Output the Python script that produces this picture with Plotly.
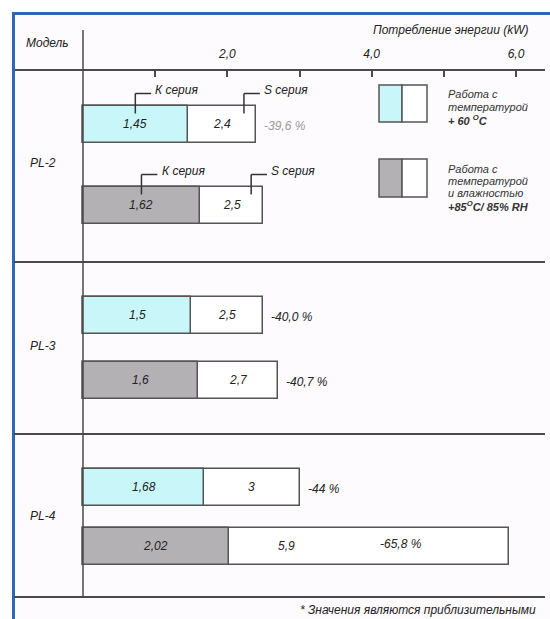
import plotly.graph_objects as go

W, H = 550, 619

# ---------------- data ----------------
models = ["PL-2", "PL-3", "PL-4"]
row_kind = ["temp", "hum", "temp", "hum", "temp", "hum"]
k_series = [1.45, 1.62, 1.5, 1.6, 1.68, 2.02]
s_series = [2.4, 2.5, 2.5, 2.7, 3.0, 5.9]
k_labels = ["1,45", "1,62", "1,5", "1,6", "1,68", "2,02"]
s_labels = ["2,4", "2,5", "2,5", "2,7", "3", "5,9"]
pct_labels = ["-39,6 %", None, "-40,0 %", "-40,7 %", "-44 %", "-65,8 %"]
tick_vals = [2, 4, 6]
tick_text = ["2,0", "4,0", "6,0"]
minor_tick_vals = [1, 3, 5]

# ---------------- layout constants (pixels) ----------------
ROW_Y = [124, 205, 315, 380, 487, 546]
MODEL_Y = [163, 346, 516]
BAR_H = 37
X0_PX = 83          # pixel where value 0 sits
PX_PER_UNIT = 72.17
AX_L, AX_R = 14, 545
AXIS_Y = 70
SEP_Y = [262, 434, 597]

FILL = {"temp": "#c9f7f9", "hum": "#b4b1b4"}
EDGE = "#555555"
FONT = "Liberation Sans, Arial, sans-serif"
TXT = "#222222"


def px(x):
    return x / W


def font(size=12, color=TXT, weight="normal"):
    return dict(family=FONT, size=size, color=color, style="italic", weight=weight)


fig = go.Figure()

# S series (full length, white) first, K series overlaid
for i in range(len(k_series)):
    fig.add_trace(go.Bar(
        orientation="h", y=[ROW_Y[i]], x=[s_series[i]], base=0, width=BAR_H,
        marker=dict(color="#ffffff", line=dict(color=EDGE, width=1.5)),
        showlegend=False, hoverinfo="skip"))
    fig.add_trace(go.Bar(
        orientation="h", y=[ROW_Y[i]], x=[k_series[i]], base=0, width=BAR_H,
        marker=dict(color=FILL[row_kind[i]], line=dict(color=EDGE, width=1.5)),
        showlegend=False, hoverinfo="skip"))

shapes = []
annotations = []

# frame background and blue border
shapes.append(dict(type="rect", xref="paper", yref="y", x0=px(13), x1=1.0, y0=13, y1=H,
                   fillcolor="#fdfbfd", line=dict(width=0), layer="below"))
shapes.append(dict(type="line", xref="paper", yref="y", x0=px(13.5), x1=px(13.5), y0=12, y1=H,
                   line=dict(color="#2d68b4", width=3)))
shapes.append(dict(type="line", xref="paper", yref="y", x0=px(12), x1=1.0, y0=13.5, y1=13.5,
                   line=dict(color="#2d68b4", width=3)))

# separators and vertical axis
for sy in SEP_Y:
    shapes.append(dict(type="line", xref="paper", yref="y", x0=px(AX_L), x1=px(AX_R), y0=sy, y1=sy,
                       line=dict(color="#4a4a4a", width=2)))
shapes.append(dict(type="line", xref="x", yref="y", x0=0, x1=0, y0=30, y1=SEP_Y[-1],
                   line=dict(color="#4a4a4a", width=1.5)))

# value labels
for i in range(len(k_series)):
    k, s = k_series[i], s_series[i]
    y = ROW_Y[i]
    annotations.append(dict(x=k / 2, y=y, xref="x", yref="y", text=k_labels[i],
                            showarrow=False, font=font(12)))
    inside_pct = s > 5
    sx = (k + 0.8) if inside_pct else (k + s) / 2
    annotations.append(dict(x=sx, y=y, xref="x", yref="y", text=s_labels[i],
                            showarrow=False, font=font(12)))
    if pct_labels[i]:
        col = "#9a9a9a" if i == 0 else TXT
        if inside_pct:
            annotations.append(dict(x=s - 1.5, y=y - 2, xref="x", yref="y", text=pct_labels[i],
                                    showarrow=False, font=font(12, col)))
        else:
            annotations.append(dict(x=s, y=y + 2, xref="x", yref="y", text=pct_labels[i],
                                    showarrow=False, xanchor="left", xshift=6, font=font(12, col)))

# series callouts for PL-2 rows
for i in (0, 1):
    k, s = k_series[i], s_series[i]
    top = ROW_Y[i] - BAR_H / 2
    for lx, name in ((k / 2, "К серия"), (s - 0.17, "S серия")):
        ly = top - 12
        shapes.append(dict(type="line", xref="x", yref="y", x0=lx, x1=lx, y0=top + 8, y1=ly,
                           line=dict(color="#333333", width=1.5)))
        shapes.append(dict(type="line", xref="x", yref="y", x0=lx, x1=lx + 0.22, y0=ly, y1=ly,
                           line=dict(color="#333333", width=1.5)))
        annotations.append(dict(x=lx + 0.25, y=ly - 4, xref="x", yref="y", text=name,
                                showarrow=False, xanchor="left", font=font(12)))

# model labels
for m, my in zip(models, MODEL_Y):
    annotations.append(dict(x=px(28), y=my, xref="paper", yref="y", text=m, showarrow=False,
                            xanchor="left", font=font(12)))

# header texts
annotations.append(dict(x=px(24), y=43, xref="paper", yref="y", text="Модель", showarrow=False,
                        xanchor="left", font=font(12)))
annotations.append(dict(x=px(531), y=30, xref="paper", yref="y", text="Потребление энергии (kW)",
                        showarrow=False, xanchor="right", font=font(12)))
annotations.append(dict(x=px(538), y=610, xref="paper", yref="y",
                        text="* Значения являются приблизительными",
                        showarrow=False, xanchor="right", font=font(12)))

# legend boxes
for (top, bot, kind) in ((85, 122, "temp"), (159, 197, "hum")):
    shapes.append(dict(type="rect", xref="paper", yref="y", x0=px(379), x1=px(402), y0=top, y1=bot,
                       fillcolor=FILL[kind], line=dict(color=EDGE, width=1.5)))
    shapes.append(dict(type="rect", xref="paper", yref="y", x0=px(402), x1=px(427), y0=top, y1=bot,
                       fillcolor="#ffffff", line=dict(color=EDGE, width=1.5)))

legend_lines = [
    (94, "Работа с", "normal"), (107, "температурой", "normal"), (120, "+ 60 <sup>O</sup>C", "bold"),
    (169, "Работа с", "normal"), (181, "температурой", "normal"), (193, "и влажностью", "normal"),
    (206, "+85<sup>O</sup>C/ 85% RH", "bold"),
]
for ly, t, w in legend_lines:
    annotations.append(dict(x=px(446), y=ly, xref="paper", yref="y", text=t, showarrow=False,
                            xanchor="left", font=font(11, "#333333", w)))

x_lo = (AX_L - X0_PX) / PX_PER_UNIT
x_hi = (AX_R - X0_PX) / PX_PER_UNIT

fig.update_layout(
    width=W, height=H,
    margin=dict(l=0, r=0, t=0, b=0),
    paper_bgcolor="#ffffff", plot_bgcolor="rgba(0,0,0,0)",
    barmode="overlay",
    bargap=0,
    showlegend=False,
    shapes=shapes,
    annotations=annotations,
    xaxis=dict(domain=[px(AX_L), px(AX_R)], range=[x_lo, x_hi], side="top",
               anchor="free", position=1 - AXIS_Y / H,
               showline=True, linecolor="#4a4a4a", linewidth=2,
               ticks="inside", ticklen=6, tickwidth=2, tickcolor="#4a4a4a",
               tickvals=tick_vals, ticktext=tick_text,
               minor=dict(tickvals=minor_tick_vals, ticks="inside", ticklen=6, tickwidth=2,
                          tickcolor="#4a4a4a"),
               tickfont=font(12), ticklabelstandoff=6,
               showgrid=False, zeroline=False, fixedrange=True),
    yaxis=dict(domain=[0, 1], range=[H, 0], visible=False, fixedrange=True),
)

fig.write_html("out.html")
